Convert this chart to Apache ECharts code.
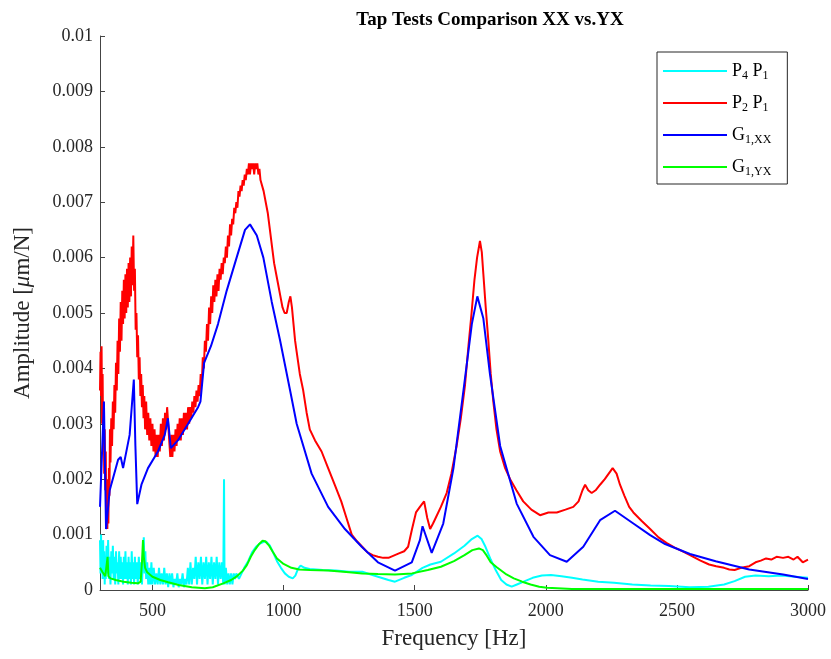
<!DOCTYPE html>
<html>
<head>
<meta charset="utf-8">
<script src="https://cdn.jsdelivr.net/npm/echarts@6/dist/echarts.min.js"></script>
<style>html,body{margin:0;padding:0;background:#fff}#c{width:831px;height:659px}</style>
</head>
<body>
<div id="c"></div>
<script>
// ---- data ----
const xTicks = [500, 1000, 1500, 2000, 2500, 3000];
const seriesNames = ['P4 P1', 'P2 P1', 'G1,XX', 'G1,YX'];

// P4 P1 (cyan)
const cyanFreq = [300,302,304,306,308,310,312,314,316,318,320,322,325,328,331,334,337,340,343,346,349,352,355,358,361,364,367,370,373,376,379,382,385,388,391,394,397,400,403,406,409,412,415,418,421,424,427,430,433,436,440,444,448,452,456,460,464,467,470,473,476,480,484,488,492,496,500,505,510,515,520,525,530,535,540,545,550,555,560,565,570,575,580,585,590,595,600,605,610,615,620,625,630,635,640,645,650,655,660,665,670,675,680,685,690,695,700,705,710,715,720,725,730,735,740,745,750,755,760,765,770,773,775,780,785,790,795,800,805,810,815,820,830,840,850,865,880,895,910,925,935,948,960,975,990,1005,1020,1035,1045,1055,1065,1080,1100,1150,1200,1250,1300,1360,1400,1425,1460,1489,1530,1560,1600,1650,1690,1718,1740,1755,1770,1790,1810,1830,1850,1870,1890,1920,1950,1985,2020,2060,2100,2140,2200,2260,2330,2400,2470,2550,2620,2680,2720,2760,2800,2850,2900,2950,3000];
const cyanAmp = [0.0009,0.0003,0.0010,0.0004,0.0008,0.0002,0.0009,0.0003,0.0007,0.0001,0.0006,0.0002,0.0008,0.0003,0.0009,0.0002,0.0006,0.0001,0.0007,0.0003,0.0008,0.0002,0.0006,0.0001,0.0007,0.0003,0.0005,0.0001,0.0007,0.0002,0.0006,0.0002,0.0005,0.0001,0.0006,0.0002,0.0007,0.0002,0.0005,0.0001,0.0006,0.0002,0.0005,0.0001,0.0007,0.0002,0.0005,0.0001,0.0006,0.0002,0.0005,0.0001,0.0006,0.0002,0.0005,0.0001,0.0006,0.00095,0.0003,0.0007,0.0002,0.0005,0.0001,0.0004,0.0001,0.0005,0.0001,0.0004,0.0001,0.0003,0.0001,0.0004,0.0001,0.0003,0.0001,0.0004,0.0001,0.0003,0.00005,0.0003,0.0001,0.0003,0.00005,0.0002,0.0001,0.0003,0.00005,0.0002,0.0001,0.0003,0.00005,0.0002,0.0001,0.0004,0.0001,0.0005,0.0001,0.0004,0.0002,0.0006,0.0001,0.0005,0.0002,0.0006,0.0001,0.0005,0.0002,0.0006,0.0001,0.0005,0.0002,0.0006,0.0001,0.0005,0.0002,0.0006,0.0001,0.0005,0.0002,0.0005,0.0001,0.0020,0.0001,0.0004,0.0001,0.0003,0.0001,0.0003,0.0001,0.0003,0.0002,0.0003,0.0002,0.0003,0.0004,0.00052,0.00068,0.00078,0.00084,0.00087,0.00087,0.0008,0.00068,0.00052,0.0004,0.0003,0.00024,0.00021,0.00026,0.00038,0.00044,0.0004,0.00038,0.00036,0.00035,0.00033,0.00033,0.00024,0.00018,0.00015,0.00022,0.00027,0.0004,0.00046,0.00051,0.00066,0.0008,0.00092,0.00098,0.00092,0.00078,0.00055,0.00035,0.00018,0.0001,0.00006,0.0001,0.00016,0.00022,0.00026,0.00027,0.00025,0.00022,0.00019,0.00015,0.00013,0.0001,0.00008,0.00007,0.00005,0.00006,0.0001,0.00016,0.00024,0.00026,0.00025,0.00026,0.00024,0.00022];

// P2 P1 (red)
const redFreq = [300,302,304,306,308,310,312,314,316,318,320,322,324,326,328,330,332,334,336,338,340,343,346,349,352,355,358,361,364,367,370,373,376,379,382,385,388,391,394,397,400,403,406,409,412,415,418,421,424,427,430,433,436,439,442,445,448,451,454,457,460,463,466,469,472,476,480,484,488,492,496,500,504,508,512,516,520,524,528,532,536,540,544,548,552,556,560,564,568,572,576,580,584,588,592,596,600,604,608,612,616,620,624,628,632,636,640,644,648,652,656,660,664,668,672,676,680,684,688,692,696,700,704,708,712,716,720,724,728,732,736,740,744,748,752,756,760,764,768,772,776,780,784,788,792,796,800,804,808,812,816,820,824,828,832,836,840,844,848,852,856,860,864,868,872,876,880,884,888,892,896,900,904,908,912,916,924,932,940,948,956,964,972,980,988,996,1004,1012,1020,1026,1032,1038,1044,1050,1062,1075,1088,1100,1120,1145,1170,1195,1220,1240,1260,1280,1300,1320,1340,1360,1380,1400,1420,1440,1460,1475,1490,1505,1520,1536,1548,1559,1570,1580,1600,1622,1640,1660,1676,1692,1705,1717,1728,1738,1749,1756,1762,1771,1781,1790,1800,1812,1826,1845,1864,1888,1914,1945,1978,2010,2042,2075,2105,2125,2140,2150,2162,2175,2190,2207,2225,2240,2255,2270,2283,2300,2318,2334,2365,2398,2430,2460,2490,2520,2550,2590,2623,2650,2680,2700,2720,2745,2776,2800,2820,2840,2860,2880,2905,2925,2945,2960,2980,3000];
const redAmp = [0.0036,0.0043,0.0035,0.0044,0.0030,0.0039,0.0026,0.0034,0.0021,0.0029,0.0018,0.0025,0.0013,0.0020,0.0011,0.0017,0.0012,0.0022,0.0017,0.0029,0.0023,0.0031,0.0026,0.0034,0.0029,0.0037,0.0032,0.0041,0.0036,0.0045,0.0039,0.0049,0.0043,0.0052,0.0045,0.0054,0.0048,0.0056,0.0049,0.0057,0.0050,0.0058,0.0051,0.0059,0.0052,0.0060,0.0053,0.0062,0.0055,0.0064,0.0054,0.0058,0.0047,0.0050,0.0042,0.0046,0.0038,0.0042,0.0035,0.0039,0.0033,0.0037,0.0031,0.0035,0.0029,0.0034,0.0028,0.0032,0.0027,0.0031,0.0026,0.0030,0.0025,0.0029,0.0024,0.0028,0.0024,0.0028,0.0025,0.0030,0.0026,0.0031,0.0027,0.0032,0.0029,0.0033,0.0030,0.0027,0.0024,0.0028,0.0024,0.0028,0.0025,0.0029,0.0026,0.0030,0.0027,0.0031,0.0027,0.0031,0.0028,0.0032,0.0029,0.0032,0.0029,0.0033,0.0030,0.0033,0.0031,0.0034,0.0032,0.0035,0.0033,0.0036,0.0034,0.0037,0.0035,0.0039,0.0037,0.0042,0.0040,0.0045,0.0043,0.0048,0.0045,0.0051,0.0048,0.0053,0.0050,0.0055,0.0052,0.0056,0.0053,0.0057,0.0054,0.0058,0.0056,0.0059,0.0057,0.0060,0.0059,0.0062,0.0060,0.0064,0.0062,0.0066,0.0064,0.0067,0.0066,0.0069,0.0068,0.0070,0.0069,0.0072,0.0071,0.0073,0.0072,0.0074,0.0073,0.0075,0.0074,0.0076,0.0075,0.0077,0.0075,0.0077,0.0076,0.0077,0.0075,0.0077,0.0076,0.0077,0.0075,0.0076,0.0074,0.0074,0.0072,0.0070,0.0068,0.0065,0.0062,0.0059,0.0057,0.0055,0.0053,0.0051,0.0050,0.0050,0.0052,0.0053,0.0051,0.0048,0.0045,0.0043,0.0039,0.0036,0.0032,0.0029,0.0027,0.0025,0.0022,0.0019,0.0016,0.0013,0.0010,0.00088,0.00078,0.00068,0.00063,0.0006,0.00058,0.00058,0.00062,0.00066,0.0007,0.00078,0.0011,0.0014,0.0015,0.0016,0.0013,0.0011,0.0012,0.0013,0.0015,0.00175,0.0021,0.0026,0.0031,0.0037,0.0044,0.0050,0.0056,0.0060,0.0063,0.0061,0.0057,0.0051,0.0045,0.0039,0.0034,0.0029,0.0025,0.0022,0.0020,0.0018,0.0016,0.00145,0.00135,0.0014,0.0014,0.00145,0.0015,0.0016,0.0018,0.0019,0.0018,0.00175,0.0018,0.0019,0.0020,0.0021,0.0022,0.0021,0.0019,0.0017,0.0015,0.0014,0.00125,0.0011,0.00095,0.00085,0.00077,0.0007,0.00063,0.00053,0.00046,0.00043,0.0004,0.00037,0.00036,0.0004,0.00043,0.0005,0.00053,0.00057,0.00055,0.0006,0.00058,0.0006,0.00055,0.0006,0.0005,0.00055];

// G1,XX (blue)
const blueFreq = [300,315,323,337,369,379,388,413,429,435,442,458,483,521,547,559,570,597,636,674,683,697,723,750,783,821,853,872,898,923,955,987,1025,1050,1107,1170,1234,1298,1360,1425,1489,1520,1530,1565,1609,1648,1686,1718,1739,1762,1787,1826,1889,1953,2016,2080,2143,2207,2264,2334,2398,2455,2550,2648,2776,2905,3000];
const blueAmp = [0.0015,0.0034,0.0011,0.0018,0.00235,0.0024,0.0022,0.0028,0.0038,0.0026,0.00155,0.0019,0.0022,0.0025,0.0028,0.0031,0.00256,0.0027,0.0030,0.0033,0.0034,0.0041,0.0044,0.0048,0.0054,0.0060,0.0065,0.0066,0.0064,0.0060,0.0052,0.0045,0.0036,0.0030,0.0021,0.0015,0.0011,0.00078,0.0005,0.00035,0.0005,0.0009,0.00115,0.00067,0.0012,0.0022,0.0036,0.0048,0.0053,0.0049,0.0039,0.0026,0.00156,0.00096,0.00063,0.00051,0.00078,0.00126,0.00143,0.0012,0.00099,0.00083,0.00065,0.00052,0.00037,0.00028,0.0002];

// G1,YX (green)
const greenFreq = [300,310,320,326,329,332,340,360,390,420,445,455,460,464,467,472,480,500,530,560,600,650,700,730,770,800,820,845,860,875,890,905,920,930,945,960,975,1000,1030,1060,1100,1170,1250,1300,1360,1425,1490,1550,1600,1650,1690,1720,1745,1760,1775,1790,1813,1850,1878,1910,1942,1975,2005,2100,2300,2600,3000];
const greenAmp = [0.0004,0.00032,0.00025,0.00023,0.0006,0.00025,0.00021,0.00018,0.00015,0.00013,0.00012,0.00015,0.0005,0.0009,0.0006,0.0004,0.00032,0.00024,0.00018,0.00014,0.00009,0.00005,0.00003,0.00005,0.00012,0.00018,0.00024,0.00035,0.00045,0.0006,0.00072,0.00082,0.00089,0.00088,0.0008,0.00068,0.00057,0.00047,0.0004,0.00037,0.00036,0.00035,0.00032,0.0003,0.00029,0.00028,0.0003,0.00036,0.00042,0.00052,0.00063,0.00072,0.00075,0.00072,0.00062,0.0005,0.00041,0.00028,0.00021,0.00015,0.0001,0.00006,0.00004,0.00002,0.00002,0.00002,0.00002];

const colors = ['#00FFFF', '#FF0000', '#0000FF', '#00FF00'];
const legendRich = {
  'P4 P1': '{a|P}{b|4}{a| P}{b|1}',
  'P2 P1': '{a|P}{b|2}{a| P}{b|1}',
  'G1,XX': '{a|G}{b|1,XX}',
  'G1,YX': '{a|G}{b|1,YX}'
};

function pairs(xs, ys) { return xs.map((x, i) => [x, ys[i]]); }
const allData = [pairs(cyanFreq, cyanAmp), pairs(redFreq, redAmp), pairs(blueFreq, blueAmp), pairs(greenFreq, greenAmp)];

const FONT = 'Liberation Serif';
const chart = echarts.init(document.getElementById('c'), null, { renderer: 'canvas' });
chart.setOption({
  animation: false,
  backgroundColor: '#fff',
  title: {
    text: 'Tap Tests Comparison XX vs.YX',
    left: 485, textAlign: 'center', top: 6,
    textStyle: { fontFamily: FONT, fontSize: 19, fontWeight: 'bold', color: '#000' }
  },
  grid: { left: 100, right: 23, top: 36, bottom: 69, containLabel: false },
  legend: {
    orient: 'vertical',
    left: 657, top: 52,
    padding: [8, 16, 6, 6],
    itemGap: 10,
    itemWidth: 64,
    itemHeight: 2,
    icon: 'rect',
    backgroundColor: '#fff',
    borderColor: '#262626',
    borderWidth: 1,
    borderRadius: 0,
    data: seriesNames,
    formatter: n => legendRich[n],
    textStyle: {
      fontFamily: FONT, color: '#000', padding: [0, 0, 0, 0],
      rich: {
        a: { fontFamily: FONT, fontSize: 18, lineHeight: 22, height: 22, color: '#000' },
        b: { fontFamily: FONT, fontSize: 12, verticalAlign: 'bottom', color: '#000' }
      }
    }
  },
  xAxis: {
    type: 'value', min: 300, max: 3000,
    name: 'Frequency [Hz]', nameLocation: 'middle', nameGap: 37,
    nameTextStyle: { fontFamily: FONT, fontSize: 23, color: '#262626' },
    axisLine: { show: true, onZero: false, lineStyle: { color: '#444', width: 1 } },
    axisTick: { show: true, inside: true, length: 5, customValues: xTicks, lineStyle: { color: '#444' } },
    axisLabel: { customValues: xTicks, fontFamily: FONT, fontSize: 18, color: '#262626', margin: 12,
      formatter: v => String(v) },
    splitLine: { show: false }
  },
  yAxis: {
    type: 'value', min: 0, max: 0.01, interval: 0.001,
    name: 'Amplitude [{i|μ}m/N]', nameLocation: 'middle', nameGap: 66, nameRotate: 90,
    nameTextStyle: { fontFamily: FONT, fontSize: 23, color: '#262626',
      rich: { i: { fontFamily: FONT, fontSize: 23, fontStyle: 'italic', color: '#262626' } } },
    axisLine: { show: true, lineStyle: { color: '#444', width: 1 } },
    axisTick: { show: true, inside: true, length: 5, lineStyle: { color: '#444' } },
    axisLabel: { fontFamily: FONT, fontSize: 18, color: '#262626', margin: 7,
      formatter: v => String(+v.toFixed(4)) },
    splitLine: { show: false }
  },
  series: seriesNames.map((n, i) => ({
    name: n, type: 'line', data: allData[i],
    symbol: 'none', showSymbol: false,
    lineStyle: { color: colors[i], width: 2 },
    itemStyle: { color: colors[i] },
    clip: true
  }))
});
</script>
</body>
</html>
